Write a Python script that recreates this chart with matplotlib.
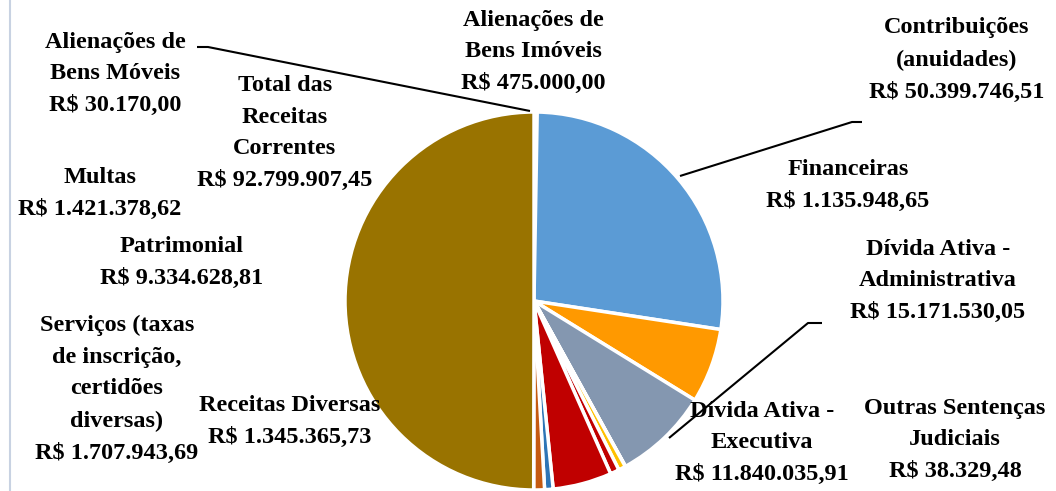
import matplotlib
matplotlib.use('Agg')
import matplotlib.pyplot as plt

# receitas (R$), ordem horaria a partir do topo
categorias = ["Alienações de Bens Móveis", "Alienações de Bens Imóveis",
              "Contribuições (anuidades)", "Dívida Ativa - Executiva",
              "Dívida Ativa - Administrativa", "Outras Sentenças Judiciais",
              "Financeiras", "Multas", "Patrimonial", "Receitas Diversas",
              "Serviços", "Total das Receitas Correntes"]
valores = [30170.00, 475000.00, 50399746.51, 11840035.91, 15171530.05,
           38329.48, 1135948.65, 1421378.62, 9334628.81, 1345365.73,
           1707943.69, 92799907.45]
cores = ["#F2F2F2", "#FFFFFF", "#5B9BD5", "#FF9900", "#8497B0", "#FFFFFF",
         "#FFC000", "#C00000", "#C00000", "#2E75B6", "#C55A11", "#997300"]

rotulos = ["Alienações de\nBens Móveis\nR$ 30.170,00",
           "Alienações de\nBens Imóveis\nR$ 475.000,00",
           "Contribuições\n(anuidades)\nR$ 50.399.746,51",
           "Dívida Ativa -\nExecutiva\nR$ 11.840.035,91",
           "Dívida Ativa -\nAdministrativa\nR$ 15.171.530,05",
           "Outras Sentenças\nJudiciais\nR$ 38.329,48",
           "Financeiras\nR$ 1.135.948,65",
           "Multas\nR$ 1.421.378,62",
           "Patrimonial\nR$ 9.334.628,81",
           "Receitas Diversas\nR$ 1.345.365,73",
           "Serviços (taxas\nde inscrição,\ncertidões\ndiversas)\nR$ 1.707.943,69",
           "Total das\nReceitas\nCorrentes\nR$ 92.799.907,45"]
# posicao dos rotulos em pixels (x, y a partir do topo)
pos_rotulos = [(115, 74), (533, 52), (957, 60), (762, 443), (938, 281),
               (955, 440), (848, 185), (100, 193), (182, 262), (290, 421),
               (117, 389), (285, 133)]

W, H = 1056, 491
fig = plt.figure(figsize=(W / 100, H / 100), dpi=100)
ax = fig.add_axes([0, 0, 1, 1])

ax.pie(valores, colors=cores, startangle=90, counterclock=False,
       center=(534, H - 301), radius=189, frame=True,
       wedgeprops=dict(edgecolor='white', linewidth=2.5))
ax.set_xlim(0, W)
ax.set_ylim(0, H)
ax.set_aspect('equal')
ax.axis('off')

for txt, (x, y) in zip(rotulos, pos_rotulos):
    ax.text(x, H - y, txt, ha='center', va='center', fontsize=17.5,
            fontweight='bold', family='Liberation Serif', linespacing=1.68,
            color='black')

# linhas de chamada
linhas = [[(197, 47), (208, 47), (530, 111)],
          [(862, 122), (852, 122), (680, 176)],
          [(822, 323), (808, 323), (669, 438)]]
for ln in linhas:
    xs = [p[0] for p in ln]
    ys = [H - p[1] for p in ln]
    ax.plot(xs, ys, color='black', lw=1.5, solid_capstyle='butt')

ax.plot([10, 10], [0, H], color='#C8D2E2', lw=1.5)

fig.savefig('out.png', dpi=100)
